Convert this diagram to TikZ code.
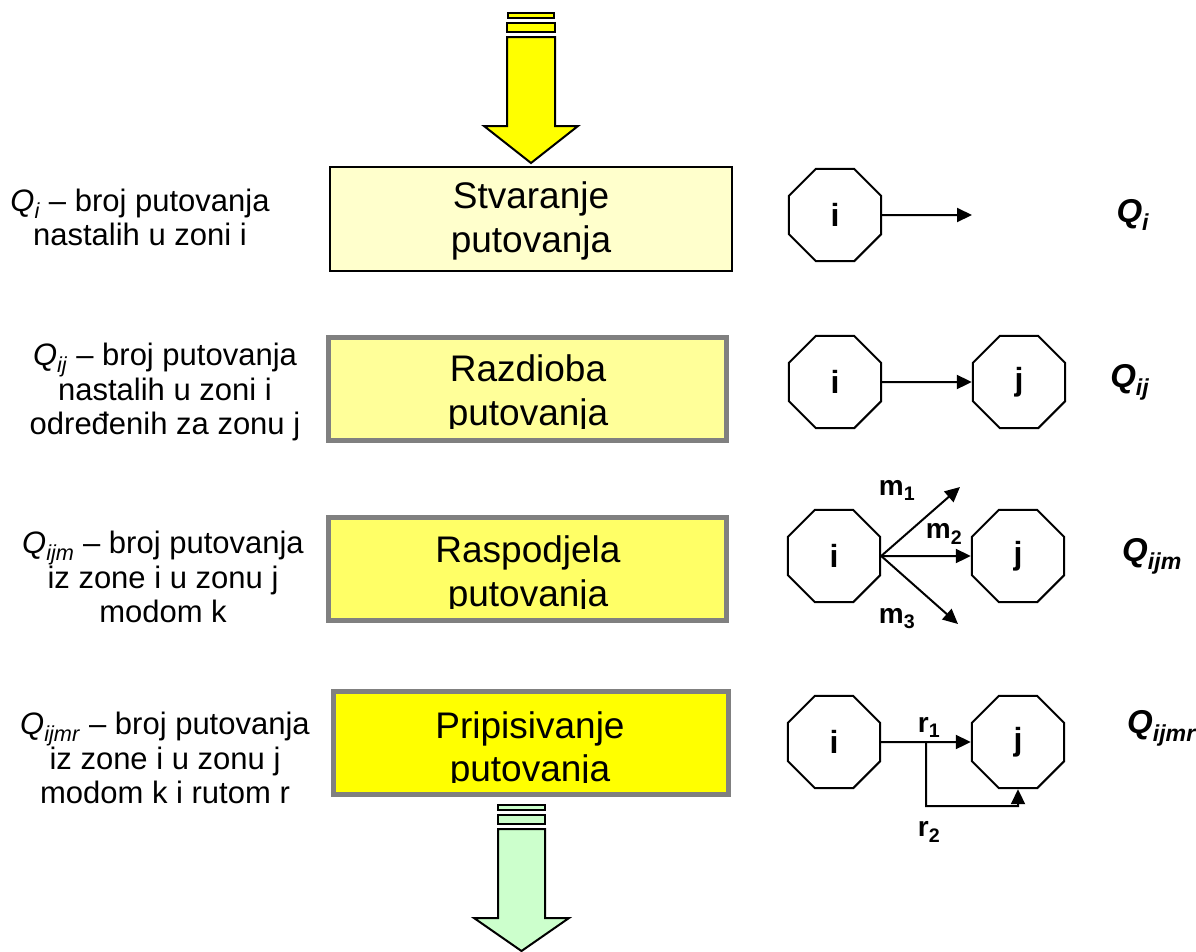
\documentclass[tikz,border=0pt]{standalone}
\usepackage{fontspec}
\setmainfont{Liberation Sans}
\usetikzlibrary{shapes.geometric,arrows.meta}
\definecolor{fillA}{HTML}{FFFFCC}
\definecolor{fillB}{HTML}{FFFF99}
\definecolor{fillC}{HTML}{FFFF66}
\definecolor{fillD}{HTML}{FFFF00}
\definecolor{greenfill}{HTML}{CCFFCC}
\definecolor{framegray}{HTML}{808080}
\newcommand\Qsub[1]{\textit{Q}\textsubscript{\textit{#1}}}
\newcommand\QsubB[1]{\textbf{\textit{Q}\textsubscript{\textit{#1}}}}
\tikzset{
  bigarrow/.style={line width=2pt, line join=miter},
  stagebox/.style={draw, inner sep=0pt, minimum height=103pt},
  boxtext/.style={anchor=base, inner sep=0pt, font=\fontsize{37}{44}\selectfont},
  lefttext/.style={align=center, inner sep=0pt, font=\fontsize{31}{34}\selectfont},
  righttext/.style={inner sep=0pt, font=\fontsize{33}{38}\selectfont},
  zone/.style={draw, line width=2pt, regular polygon, regular polygon sides=8, minimum size=100pt, inner sep=0pt, font=\fontsize{32}{36}\selectfont\bfseries},
  link/.style={line width=2pt, -{Triangle[length=15pt,width=14pt]}},
  modelabel/.style={inner sep=0pt, font=\fontsize{28}{32}\selectfont\bfseries}
}
\begin{document}
\begin{tikzpicture}[x=1pt,y=-1pt]
\useasboundingbox (0,0) rectangle (1196,951);
% top yellow arrow
\draw[bigarrow, fill=fillD] (508,13) rectangle (554,18);
\draw[bigarrow, fill=fillD] (507,23) rectangle (555,32);
\draw[bigarrow, fill=fillD] (507,37) -- (555,37) -- (555,126) -- (578,126) -- (531,163) -- (484,126) -- (507,126) -- cycle;
% bottom green arrow
\draw[bigarrow, fill=greenfill] (498,805) rectangle (545,810);
\draw[bigarrow, fill=greenfill] (498,815) rectangle (545,824);
\draw[bigarrow, fill=greenfill] (498,829) -- (545,829) -- (545,918) -- (569,918) -- (521.5,951) -- (474,918) -- (498,918) -- cycle;

% stage boxes
\node[stagebox, line width=2pt, fill=fillA, minimum width=402pt, minimum height=104pt] (b1) at (531,219) {};
\node[stagebox, line width=5pt, draw=framegray, fill=fillB, minimum width=398pt] (b2) at (527,388.5) {};
\node[stagebox, line width=5pt, draw=framegray, fill=fillC, minimum width=398pt] (b3) at (527,568.5) {};
\node[stagebox, line width=5pt, draw=framegray, fill=fillD, minimum width=395pt] (b4) at (530.5,742.5) {};

\node[boxtext] (t1a) at (531,208) {Stvaranje};
\node[boxtext] (t1b) at (531,252) {putovanja};
\begin{scope}
\clip (330,340) rectangle (724,428);
\node[boxtext] (t2a) at (528,381) {Razdioba};
\node[boxtext] (t2b) at (528,425) {putovanja};
\end{scope}
\begin{scope}
\clip (330,520) rectangle (724,608);
\node[boxtext] (t3a) at (528,562) {Raspodjela};
\node[boxtext] (t3b) at (528,606) {putovanja};
\end{scope}
\begin{scope}
\clip (335,694) rectangle (726,782);
\node[boxtext] (t4a) at (530,738) {Pripisivanje};
\node[boxtext] (t4b) at (530,781) {putovanja};
\end{scope}

% left descriptions
\node[lefttext] (d1) at (140,217) {\Qsub{i} -- broj putovanja\\nastalih u zoni i};
\node[lefttext] (d2) at (165,392) {\Qsub{ij} -- broj putovanja\\nastalih u zoni i\\određenih za zonu j};
\node[lefttext] (d3) at (163,577) {\Qsub{ijm} -- broj putovanja\\iz zone i u zonu j\\modom k};
\node[lefttext] (d4) at (165,758) {\Qsub{ijmr} -- broj putovanja\\iz zone i u zonu j\\modom k i rutom r};

% right labels
\node[righttext] (q1) at (1133,215) {\QsubB{i}};
\node[righttext] (q2) at (1130,382) {\QsubB{ij}};
\node[righttext] (q3) at (1152,556) {\QsubB{ijm}};
\node[righttext] (q4) at (1162,728) {\QsubB{ijmr}};

% row 1
\node[zone] (i1) at (835,215) {i};
\coordinate (e1) at (972,215);
\draw[link] (i1.east) -- (e1);
% row 2
\node[zone] (i2) at (835,382) {i};
\node[zone] (j2) at (1019,382) {j};
\draw[link] (i2.east) -- (j2.west);
% row 3
\node[zone] (i3) at (834,556) {i};
\node[zone] (j3) at (1018,556) {j};
\coordinate (m1end) at (960,487);
\coordinate (m3end) at (958,624);
\draw[link] (i3.east) -- (m1end);
\draw[link] (i3.east) -- (j3.west);
\draw[link] (i3.east) -- (m3end);
\node[modelabel] (lm1) at (897,490) {m\textsubscript{1}};
\node[modelabel] (lm2) at (944,534) {m\textsubscript{2}};
\node[modelabel] (lm3) at (897,619) {m\textsubscript{3}};
% row 4
\node[zone] (i4) at (834,742) {i};
\node[zone] (j4) at (1018,742) {j};
\draw[link] (i4.east) -- (j4.west);
\coordinate (split) at (926,742);
\coordinate (down) at (926,806);
\coordinate (across) at (1018,806);
\draw[link] (split) -- (down) -- (across) -- (j4.south);
\node[modelabel] (lr1) at (929,727) {r\textsubscript{1}};
\node[modelabel] (lr2) at (929,832) {r\textsubscript{2}};
\end{tikzpicture}
\end{document}
